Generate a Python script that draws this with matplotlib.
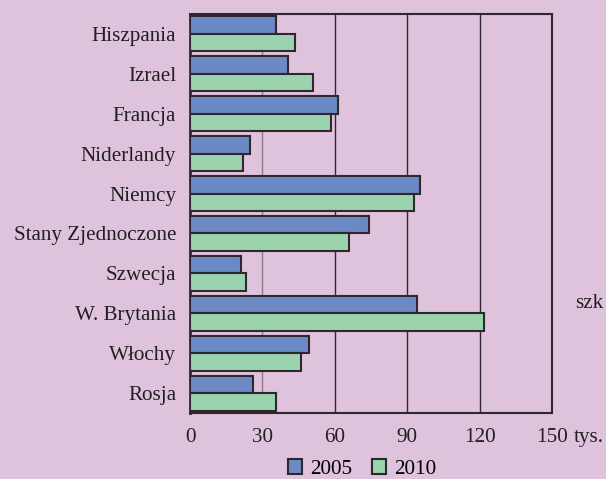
import numpy as np
import matplotlib.pyplot as plt
from matplotlib.patches import Patch

plt.rcParams.update({'font.family': 'Liberation Serif', 'font.size': 15.2})

countries = ["Hiszpania", "Izrael", "Francja", "Niderlandy", "Niemcy",
             "Stany Zjednoczone", "Szwecja", "W. Brytania", "Włochy", "Rosja"]
v2005 = [35.8, 40.6, 61.2, 24.9, 95.5, 74.3, 21.3, 94.2, 49.4, 26.1]
v2010 = [43.4, 51.0, 58.6, 22.1, 92.8, 66.0, 23.3, 121.7, 46.1, 35.8]
xticks = [0, 30, 60, 90, 120, 150]

bg = '#dfc2dc'
c2005 = '#6b8ac5'
c2010 = '#9bd3ae'
edge = '#2e282e'
txt = '#231f20'

fig = plt.figure(figsize=(6.06, 4.79), dpi=100, facecolor=bg)
ax = fig.add_axes([190/606, 1-413/479, 362/606, 399/479])
ax.set_facecolor(bg)

y = np.arange(len(countries))
h = 0.4375
ax.barh(y - h/2, v2005, height=h, color=c2005, edgecolor=edge, linewidth=1.5, zorder=3)
ax.barh(y + h/2, v2010, height=h, color=c2010, edgecolor=edge, linewidth=1.5, zorder=3)

for xv in xticks[1:-1]:
    ax.axvline(xv, color='#8a7a8a' if xv == 30 else edge, lw=1.0, zorder=1)

ax.set_xlim(0, 150)
ax.set_ylim(len(countries) - 0.5, -0.5)
ax.set_yticks(y)
ax.set_yticklabels(countries)
ax.set_xticks(xticks)
ax.tick_params(length=0, colors=txt)
ax.tick_params(axis='x', pad=11)
ax.tick_params(axis='y', pad=10)
for s in ax.spines.values():
    s.set_color(edge)
    s.set_linewidth(1.5)
ax.spines['left'].set_linewidth(2)

fig.text(574/606, 1-442/479, "tys.", ha='left', va='baseline', color=txt)
fig.text(603/606, 1-304/479, "szk", ha='right', va='center', color=txt)

handles = [Patch(facecolor=c2005, edgecolor=edge, lw=1.5, label='2005'),
           Patch(facecolor=c2010, edgecolor=edge, lw=1.5, label='2010')]
fig.legend(handles=handles, loc='center', bbox_to_anchor=(362/606, 1-469/479), ncol=2,
           frameon=False, handlelength=0.67, handleheight=0.67, handletextpad=0.38,
           columnspacing=0.96, borderpad=0, borderaxespad=0)

fig.savefig('out.png', dpi=100, facecolor=bg)
